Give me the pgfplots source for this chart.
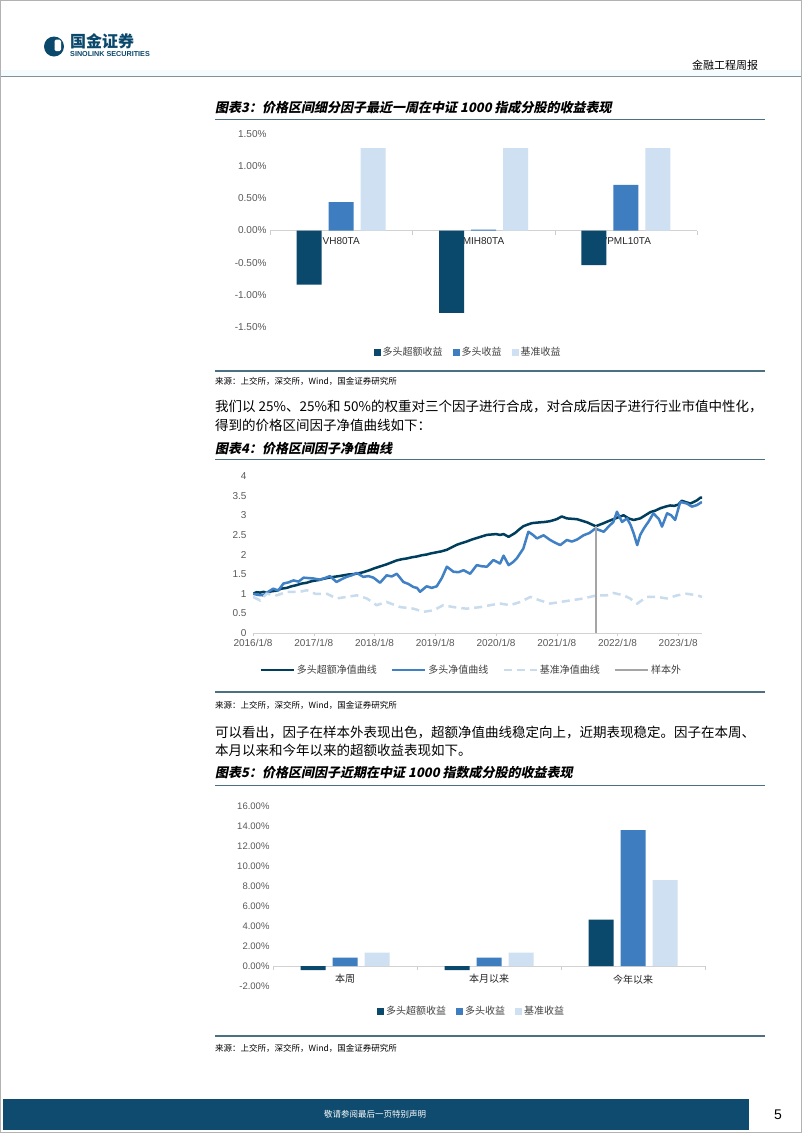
\documentclass[border=0pt]{standalone}
\usepackage{fontspec}
\usepackage{pgfplots}
\pgfplotsset{compat=1.18}
\setmainfont{Liberation Sans}
\newfontfamily\cjk{Noto Sans CJK SC}
\newfontfamily\cjkti{Noto Sans CJK SC}[FakeSlant=0.2]
\definecolor{cdark}{RGB}{10,72,108}
\definecolor{cmed}{RGB}{62,126,192}
\definecolor{clight}{RGB}{206,224,241}
\definecolor{cline}{RGB}{0,62,94}
\definecolor{cmedline}{RGB}{64,128,196}
\definecolor{clightline}{RGB}{200,220,238}
\definecolor{cgrey}{RGB}{165,165,165}
\definecolor{crule}{RGB}{74,112,130}
\definecolor{cfoot}{RGB}{15,75,110}
\definecolor{tickc}{RGB}{89,89,89}
\definecolor{legc}{RGB}{64,64,64}
\definecolor{hdrline}{RGB}{130,146,156}
\pgfplotsset{
  layers/labelsbelow/.define layer set={axis background,axis grid,axis ticks,axis lines,axis tick labels,main,axis descriptions,axis foreground}{},
  every axis/.append style={scale only axis, anchor=south west,
  font=\fontsize{10}{12}\selectfont, tick label style={text=tickc},
  hide obscured x ticks=false, hide obscured y ticks=false}}
\begin{document}
\begin{tikzpicture}
\begin{scope}[x=1pt,y=-1pt]
\path[use as bounding box] (0,0) rectangle (802,1133);
\fill[white] (0,0) rectangle (802,1133);
\draw[gray!60, line width=1pt] (0.5,0.5) rectangle (801.5,1132.5);
% header
\fill[cdark] (54,46.5) circle (10);
\fill[white, rounded corners=1.5] (54.5,39.5) rectangle (61,51);
\node[anchor=west, inner sep=0, text=cdark] at (70,41.5) {\cjk\bfseries\fontsize{16}{17}\selectfont 国金证券};
\node[anchor=west, inner sep=0, text=cdark] at (70,54.5) {\bfseries\fontsize{7.2}{8}\selectfont SINOLINK SECURITIES};
\node[anchor=center, inner sep=0] at (725,65) {\cjk\fontsize{11}{12}\selectfont 金融工程周报};
\fill[cyan!4] (1,70) rectangle (801,75.5);
\draw[hdrline, line width=1.6pt] (1,76.3) -- (801,76.3);
% chart 3 texts
\node[anchor=west, inner sep=0] at (215,108) {\cjkti\bfseries\fontsize{13}{14}\selectfont 图表3：价格区间细分因子最近一周在中证 1000 指成分股的收益表现};
\draw[crule, line width=1.1pt] (215,119.5) -- (765,119.5);
\draw[crule, line width=1.1pt] (215,371) -- (765,371);
\node[anchor=west, inner sep=0] at (215,381) {\cjk\fontsize{8.5}{9}\selectfont 来源：上交所，深交所，Wind，国金证券研究所};
\node[anchor=west, inner sep=0] at (215,406) {\cjk\fontsize{13.5}{14}\selectfont 我们以 25\%、25\%和 50\%的权重对三个因子进行合成，对合成后因子进行行业市值中性化，};
\node[anchor=west, inner sep=0] at (215,425) {\cjk\fontsize{13.5}{14}\selectfont 得到的价格区间因子净值曲线如下：};
\node[anchor=west, inner sep=0] at (215,449) {\cjkti\bfseries\fontsize{13}{14}\selectfont 图表4：价格区间因子净值曲线};
\draw[crule, line width=1.1pt] (215,459.5) -- (765,459.5);
\draw[crule, line width=1.1pt] (215,692) -- (765,692);
\node[anchor=west, inner sep=0] at (215,705) {\cjk\fontsize{8.5}{9}\selectfont 来源：上交所，深交所，Wind，国金证券研究所};
\node[anchor=west, inner sep=0] at (215,732) {\cjk\fontsize{13.5}{14}\selectfont 可以看出，因子在样本外表现出色，超额净值曲线稳定向上，近期表现稳定。因子在本周、};
\node[anchor=west, inner sep=0] at (215,750) {\cjk\fontsize{13.5}{14}\selectfont 本月以来和今年以来的超额收益表现如下。};
\node[anchor=west, inner sep=0] at (215,773) {\cjkti\bfseries\fontsize{13}{14}\selectfont 图表5：价格区间因子近期在中证 1000 指数成分股的收益表现};
\draw[crule, line width=1.1pt] (215,785.5) -- (765,785.5);
\draw[crule, line width=1.1pt] (215,1036) -- (765,1036);
\node[anchor=west, inner sep=0] at (215,1048) {\cjk\fontsize{8.5}{9}\selectfont 来源：上交所，深交所，Wind，国金证券研究所};
% footer
\fill[cfoot] (3,1099) rectangle (749,1130);
\node[text=white, inner sep=0] at (375,1114.5) {\cjk\fontsize{8.5}{9}\selectfont 敬请参阅最后一页特别声明};
\node[inner sep=0] at (778,1115) {\fontsize{14}{15}\selectfont 5};
\end{scope}

% ---------- Chart 3 ----------
\begin{axis}[at={(270pt,-327pt)}, width=427pt, height=193pt,
  set layers=labelsbelow,
  ybar=7pt, bar width=25pt,
  xmin=-0.5, xmax=2.5, ymin=-1.5, ymax=1.5,
  axis x line=middle, axis y line=left,
  y axis line style={draw=none}, x axis line style={draw=gray!35, line width=0.8pt, -},
  xtick={0,1,2}, xticklabels={VH80TA,MIH80TA,VPML10TA},
  xticklabel style={yshift=-3pt, text=black!85},
  minor xtick={-0.5,0.5,1.5,2.5},
  major tick length=0pt, minor tick length=4pt, tick align=outside,
  tick style={gray!40},
  ytick={-1.5,-1,-0.5,0,0.5,1,1.5},
  yticklabels={-1.50\%,-1.00\%,-0.50\%,0.00\%,0.50\%,1.00\%,1.50\%},
  legend style={at={(0.464,-0.13)}, anchor=center, draw=none, fill=none,
    legend columns=-1, font=\cjk\fontsize{10}{12}\selectfont, text=legc,
    /tikz/every even column/.append style={column sep=8pt}},
  legend image code/.code={\fill[#1] (0pt,-3.5pt) rectangle (7pt,3.5pt);},
]
\addplot[fill=cdark, draw=none] coordinates {(0,-0.84) (1,-1.28) (2,-0.54)};
\addplot[fill=cmed, draw=none] coordinates {(0,0.44) (1,0.015) (2,0.71)};
\addplot[fill=clight, draw=none] coordinates {(0,1.28) (1,1.28) (2,1.28)};
\legend{多头超额收益,多头收益,基准收益}
\end{axis}

% ---------- Chart 4 ----------
\begin{axis}[at={(253pt,-633pt)}, width=449pt, height=157pt,
  xmin=0, xmax=88.7, ymin=0, ymax=4,
  axis x line=bottom, axis y line=left,
  y axis line style={draw=none}, x axis line style={draw=gray!35, line width=0.8pt, -},
  xtick={0,12,24,36,48,60,72,84},
  xticklabels={2016/1/8,2017/1/8,2018/1/8,2019/1/8,2020/1/8,2021/1/8,2022/1/8,2023/1/8},
  ytick={0,0.5,1,1.5,2,2.5,3,3.5,4},
  yticklabels={0,0.5,1,1.5,2,2.5,3,3.5,4},
  ytick style={draw=none}, xtick style={gray!40}, major tick length=3pt, tick align=outside,
  legend style={at={(0.486,-0.236)}, anchor=center, draw=none, fill=none,
    legend columns=-1, font=\cjk\fontsize{10}{12}\selectfont, text=legc,
    /tikz/every even column/.append style={column sep=12pt}},
  legend image code/.code={\draw[#1] (0pt,0pt) -- (33pt,0pt);},
]
\addplot[cline, line width=2.5pt, line join=round] coordinates {
(0,1.00)(0.7,1.04)(1.4,1.03)(2.1,1.05)(2.7,1.02)(3.5,1.06)(4.7,1.08)(5.6,1.13)(6.7,1.15)(7.6,1.19)(8.6,1.22)(9.6,1.26)(10.6,1.28)(11.3,1.31)(12,1.33)(13,1.35)(13.9,1.38)(15,1.41)(15.9,1.43)
(17,1.45)(17.9,1.47)(18.8,1.49)(19.8,1.50)(20.8,1.52)(21.8,1.55)(23,1.60)(24,1.65)(25.2,1.70)(26.4,1.75)(27.4,1.80)(28.4,1.85)(29.4,1.88)(30.4,1.90)(31.4,1.93)(32.4,1.95)(33.3,1.98)(34.3,2.00)
(35.2,2.03)(36,2.05)(37.2,2.08)(38.3,2.12)(39.2,2.18)(40.3,2.25)(41.2,2.29)(42.2,2.33)(43.2,2.38)(44.2,2.42)(45.2,2.46)(46.2,2.50)(47.1,2.51)(48,2.52)(48.8,2.50)(49.5,2.52)(50.5,2.45)
(51.8,2.55)(52.6,2.64)(53.4,2.72)(54.2,2.76)(55.1,2.80)(56.7,2.82)(57.7,2.83)(58.7,2.85)(60,2.90)(61,2.97)(62,2.92)(63,2.91)(64,2.90)(65,2.86)(66,2.82)
(67.7,2.72)(68.5,2.76)(69.3,2.80)(70.2,2.85)(71.2,2.90)(72.2,2.95)(73.2,3.00)(74.2,2.92)(75.2,2.88)(76.5,2.92)(77.5,3.00)(78.5,3.08)(79.5,3.12)(80.5,3.18)(81.5,3.22)(82.4,3.25)
(83.2,3.24)(84,3.27)(84.7,3.37)(85.6,3.33)(86.4,3.30)(87.1,3.34)(87.7,3.38)(88.4,3.45)(88.7,3.45)};
\addplot[cmedline, line width=2.5pt, line join=round] coordinates {
(0,1.00)(1,0.97)(2,0.96)(3,1.05)(4,1.13)(5,1.08)(6,1.26)(7,1.29)(8,1.34)(9,1.31)(10,1.41)(11.9,1.39)(13.2,1.36)(14.2,1.40)
(15.2,1.45)(16.5,1.30)(17.5,1.37)(18.5,1.43)(19.5,1.47)(20.5,1.53)(21.8,1.43)(22.8,1.45)(23.8,1.41)(25.1,1.28)(26.4,1.47)(27.4,1.44)(28.4,1.51)
(29.7,1.30)(30.7,1.25)(31.7,1.17)(32.4,1.15)(33,1.05)(34.3,1.19)(35.3,1.15)(36.3,1.19)(37.3,1.40)(38.3,1.69)(39.6,1.56)(40.6,1.55)(41.6,1.60)(42.9,1.51)
(44.2,1.73)(45.2,1.70)(46.2,1.69)(47.5,1.86)(48.8,1.77)(49.5,1.97)(50.5,1.73)(51.3,1.80)(52.1,1.90)(53.4,2.15)(54.4,2.58)
(55.3,2.50)(56.1,2.41)(57.4,2.49)(58.7,2.37)(59.7,2.30)(60.7,2.24)(62,2.37)(63,2.33)(64,2.38)(65.3,2.49)(66.5,2.55)(67.6,2.66)(69.3,2.58)
(70.3,2.72)(71.2,2.83)(71.9,3.09)(72.9,2.83)(73.9,2.92)(74.6,2.75)(75.2,2.54)(75.9,2.24)(76.5,2.50)(77.2,2.66)(78.2,2.85)(79.1,3.05)(80.2,2.90)(80.8,2.71)
(81.8,3.05)(82.6,3.00)(83.4,2.88)(84.4,3.34)(85.7,3.30)(86.7,3.22)(87.7,3.26)(88.7,3.34)};
\addplot[clightline, line width=2.5pt, dash pattern=on 8pt off 5pt] coordinates {
(0,0.92)(1.4,0.83)(2.7,1.00)(4.7,0.96)(6.7,1.05)(9.3,1.05)(10.6,1.09)(12.3,1.00)(14.6,1.00)(16.5,0.88)
(18.5,0.92)(20.5,0.96)(22.5,0.88)(24.4,0.71)(26.4,0.79)(29.1,0.66)(31.7,0.62)(33.7,0.54)(35.7,0.58)
(37.6,0.71)(39.6,0.66)(42.2,0.62)(44.9,0.66)(46.9,0.71)(48.8,0.75)(50.8,0.71)(52.8,0.79)(54.8,0.92)
(56.7,0.83)(58.7,0.75)(60.7,0.79)(62.7,0.83)(65.3,0.88)(67.9,0.96)(69.9,0.96)(71.2,1.02)(73.2,0.96)
(74.5,0.88)(75.9,0.75)(77.8,0.92)(79.8,0.92)(81.8,0.88)(83.8,0.96)(85.7,1.00)(87.7,0.96)(88.7,0.92)};
\addplot[cgrey, line width=2.2pt] coordinates {(67.7,0) (67.7,2.72)};
\legend{多头超额净值曲线,多头净值曲线,基准净值曲线,样本外}
\end{axis}

% ---------- Chart 5 ----------
\begin{axis}[at={(273pt,-986pt)}, width=432pt, height=180pt,
  ybar=7pt, bar width=25pt,
  xmin=-0.5, xmax=2.5, ymin=-2, ymax=16,
  axis x line=middle, axis y line=left,
  y axis line style={draw=none}, x axis line style={draw=gray!35, line width=0.8pt, -},
  xtick={0,1,2}, xticklabels={\cjk 本周,\cjk 本月以来,\cjk 今年以来},
  xticklabel style={yshift=-5pt, text=black!85},
  minor xtick={-0.5,0.5,1.5,2.5},
  major tick length=0pt, minor tick length=4pt, tick align=outside,
  tick style={gray!40},
  ytick={-2,0,2,4,6,8,10,12,14,16},
  yticklabels={-2.00\%,0.00\%,2.00\%,4.00\%,6.00\%,8.00\%,10.00\%,12.00\%,14.00\%,16.00\%},
  yticklabel style={font=\fontsize{9.5}{11}\selectfont},
  legend style={at={(0.46,-0.139)}, anchor=center, draw=none, fill=none,
    legend columns=-1, font=\cjk\fontsize{10}{12}\selectfont, text=legc,
    /tikz/every even column/.append style={column sep=8pt}},
  legend image code/.code={\fill[#1] (0pt,-3.5pt) rectangle (7pt,3.5pt);},
]
\addplot[fill=cdark, draw=none] coordinates {(0,-0.42) (1,-0.42) (2,4.65)};
\addplot[fill=cmed, draw=none] coordinates {(0,0.85) (1,0.85) (2,13.6)};
\addplot[fill=clight, draw=none] coordinates {(0,1.33) (1,1.33) (2,8.6)};
\legend{多头超额收益,多头收益,基准收益}
\end{axis}
\end{tikzpicture}
\end{document}
